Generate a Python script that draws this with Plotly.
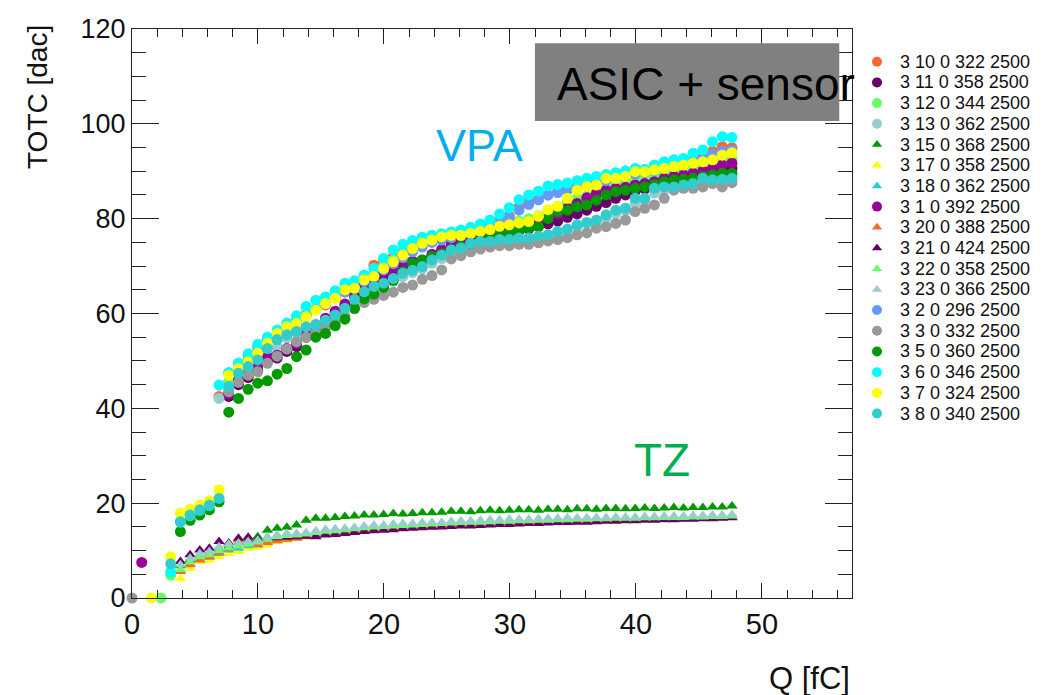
import plotly.graph_objects as go

# Injected charge steps [fC]
Q = [0.00, 0.77, 1.54, 2.30, 3.07, 3.84, 4.61, 5.38, 6.14, 6.91,
     7.68, 8.45, 9.22, 9.98, 10.75, 11.52, 12.29, 13.06, 13.82, 14.59,
     15.36, 16.13, 16.90, 17.66, 18.43, 19.20, 19.97, 20.74, 21.50, 22.27,
     23.04, 23.81, 24.58, 25.34, 26.11, 26.88, 27.65, 28.42, 29.18, 29.95,
     30.72, 31.49, 32.26, 33.02, 33.79, 34.56, 35.33, 36.10, 36.86, 37.63,
     38.40, 39.17, 39.94, 40.70, 41.47, 42.24, 43.01, 43.78, 44.54, 45.31,
     46.08, 46.85, 47.62]

# VPA channels (circles)
vpa_3_10 = [None] * 9 + [
    42.5, 45.5, 48.0, 50.0, 52.0, 54.0, 55.5, 57.0, 58.5, 60.0, 61.0, 61.8, 63.5, 65.0,
    66.5, 68.0, 70.2, 71.0, 72.0, 73.0, 74.0, 74.8, 75.5, 76.0, 76.4, 76.8, 77.2, 77.8,
    78.8, 79.6, 80.6, 82.5, 83.6, 84.0, 85.0, 85.8, 86.4, 86.8, 87.2, 87.8, 88.4, 88.8,
    89.2, 89.6, 90.0, 90.4, 90.8, 91.2, 91.6, 92.2, 93.0, 94.2, 95.2, 95.0]
vpa_3_11 = [None] * 10 + [
    42.5, 45.0, 46.5, 48.0, 50.0, 50.6, 52.0, 53.0, 55.0, 56.8, 58.3, 60.0, 61.5, 63.3,
    65.5, 66.3, 67.8, 68.2, 69.5, 70.5, 71.0, 72.0, 73.0, 73.8, 74.5, 75.0, 75.6, 76.3,
    76.7, 77.0, 77.4, 77.8, 78.4, 78.9, 79.5, 80.3, 81.0, 81.8, 82.6, 83.4, 84.3, 85.0,
    85.8, 86.3, 86.8, 87.4, 87.8, 88.2, 88.6, 89.1, 89.6, 90.2, 90.6]
vpa_3_12 = [None, None, None, 0.0, 4.8, None, None, None, None, None] + [
    45.5, 48.0, 49.5, 51.0, 53.0, 55.0, 57.5, 58.5, 60.0, 61.0, 62.4, 63.6, 65.2, 66.0,
    67.5, 68.5, 70.0, 71.3, 72.6, 73.8, 74.6, 75.2, 75.7, 76.1, 76.3, 76.7, 77.0, 77.5,
    78.2, 79.0, 79.5, 80.0, 80.6, 81.6, 82.6, 83.6, 84.3, 84.8, 85.6, 86.4, 87.0, 87.6,
    88.2, 88.6, 89.0, 89.4, 89.8, 90.2, 90.6, 91.0, 91.6, 92.2, 92.6]
vpa_3_13 = [None] * 9 + [
    42.1, 44.0, 46.5, 48.0, 49.5, 51.5, 53.0, 54.8, 55.8, 56.8, 57.8, 58.8, 60.0, 61.2,
    62.5, 64.0, 65.0, 65.8, 66.8, 67.8, 68.6, 69.4, 70.6, 71.6, 72.6, 73.2, 74.0, 74.6,
    74.8, 75.1, 75.3, 75.6, 75.8, 76.2, 76.6, 77.1, 77.6, 78.3, 78.9, 79.5, 80.1, 81.0,
    81.7, 83.3, 83.9, 85.4, 86.0, 86.3, 86.8, 87.2, 87.9, 88.5, 88.8, 89.2]
vpa_3_1 = [None, 7.5] + [None] * 8 + [
    43.0, 46.0, 47.4, 48.8, 50.9, 51.2, 52.6, 53.7, 55.8, 57.5, 59.0, 60.5, 62.0, 64.0,
    66.4, 67.1, 68.5, 68.8, 70.0, 71.0, 71.3, 72.5, 73.5, 74.5, 75.2, 75.8, 76.3, 76.9,
    77.3, 77.7, 78.3, 78.8, 79.4, 80.0, 81.0, 82.2, 83.2, 84.4, 85.3, 86.0, 86.4, 86.6,
    87.1, 87.4, 87.8, 88.5, 88.9, 89.2, 89.6, 90.1, 90.6, 91.3, 91.7]
vpa_3_2 = [None] * 10 + [
    47.5, 49.5, 51.2, 53.1, 54.5, 55.8, 57.0, 58.3, 59.5, 60.8, 62.0, 63.3, 64.5, 65.5,
    66.8, 68.0, 69.2, 70.5, 71.8, 73.0, 74.0, 75.0, 75.5, 76.0, 76.4, 76.8, 77.4, 78.2,
    79.2, 80.2, 81.8, 83.0, 84.0, 85.0, 85.5, 86.0, 86.6, 87.0, 87.5, 88.0, 88.5, 89.0,
    89.4, 89.8, 90.2, 90.7, 91.1, 91.5, 92.0, 92.6, 93.5, 94.2, 94.5]
vpa_3_3 = [0.0] + [None] * 9 + [
    43.5, 45.5, 47.0, 47.7, 49.5, 51.0, 52.5, 54.0, 55.0, 56.0, 57.0, 58.0, 59.5, 61.0,
    62.3, 63.0, 63.8, 64.5, 65.5, 66.0, 67.2, 68.0, 69.2, 71.5, 72.2, 73.0, 73.6, 74.0,
    74.3, 74.3, 74.6, 74.6, 74.9, 75.3, 75.6, 76.0, 76.6, 77.0, 78.0, 78.3, 79.0, 79.7,
    81.5, 82.2, 82.9, 84.3, 86.0, 86.4, 86.4, 86.7, 87.4, 86.7, 87.6]
vpa_3_5 = [None] * 5 + [14.0, 16.4, 17.5, 18.6, 20.3] + [
    39.2, 42.1, 44.0, 45.3, 45.8, 47.2, 48.4, 50.9, 52.3, 55.0, 55.8, 57.4, 58.8, 61.1,
    63.1, 64.1, 65.5, 67.0, 68.8, 70.6, 71.3, 72.0, 72.6, 73.5, 74.2, 74.8, 75.5, 76.0,
    76.6, 77.0, 77.6, 78.0, 78.3, 80.0, 81.5, 81.8, 82.5, 82.9, 83.9, 85.0, 85.7, 86.0,
    86.4, 86.7, 87.2, 87.8, 88.2, 88.3, 88.5, 88.9, 89.2, 89.6, 89.6]
vpa_3_6 = [None] * 4 + [5.5, 16.0, 17.4, 18.5, 19.5, 44.9] + [
    47.5, 49.5, 51.5, 53.5, 55.0, 56.5, 58.0, 59.5, 61.5, 62.8, 63.5, 64.8, 66.4, 66.9,
    68.1, 69.5, 71.6, 73.4, 74.6, 75.4, 76.1, 76.5, 76.8, 77.2, 77.6, 78.2, 78.9, 79.7,
    81.0, 82.3, 84.0, 85.0, 85.8, 86.9, 87.2, 87.5, 88.0, 88.5, 88.9, 89.3, 89.7, 90.1,
    90.6, 90.4, 91.3, 92.0, 92.4, 92.7, 93.8, 94.5, 96.2, 97.3, 97.1]
vpa_3_7 = [None, None, 0.0, None, 8.7, 17.9, 18.7, 19.6, 20.5, 22.8] + [
    47.0, 48.4, 49.8, 51.6, 53.7, 55.8, 57.2, 57.9, 59.3, 60.7, 62.1, 63.2, 65.0, 65.3,
    67.1, 67.8, 69.5, 70.9, 72.3, 73.7, 74.8, 75.5, 76.2, 76.5, 76.5, 76.9, 77.3, 77.7,
    78.4, 78.7, 79.1, 79.4, 80.5, 81.9, 82.6, 84.3, 86.0, 86.8, 87.1, 88.5, 88.5, 88.9,
    89.9, 89.9, 90.3, 90.6, 91.0, 91.3, 91.7, 92.0, 92.4, 93.4, 93.9]
vpa_3_8 = [None] * 4 + [7.2, 16.1, 17.5, 18.6, 19.6, 21.0] + [
    44.6, 47.4, 48.8, 50.2, 52.6, 54.5, 55.5, 56.2, 57.2, 57.6, 58.6, 59.7, 61.1, 63.0,
    64.6, 65.7, 66.4, 67.4, 68.5, 69.1, 69.9, 71.3, 72.3, 73.4, 73.8, 74.8, 75.2, 75.2,
    75.6, 75.6, 75.9, 75.9, 76.3, 76.6, 77.3, 77.8, 78.7, 79.2, 79.7, 80.8, 81.8, 82.2,
    84.3, 84.3, 86.4, 86.7, 86.7, 87.1, 87.4, 88.5, 88.2, 88.3, 88.5]

# TZ channels (triangles)
tz_3_15 = [None] * 5 + [
    6.8, 8.0, 8.7, 9.3, 10.2, 10.9, 11.7, 12.3, 12.9, 14.3, 14.7, 14.9, 15.4, 16.4,
    16.8, 16.8, 17.0, 17.2, 17.3, 17.5, 17.5, 17.6, 17.8, 17.7, 17.8, 18.0, 18.0, 18.1,
    18.3, 18.3, 18.2, 18.4, 18.5, 18.4, 18.5, 18.6, 18.6, 18.5, 18.7, 18.7, 18.6, 18.8,
    18.8, 18.7, 18.9, 18.9, 18.8, 18.9, 19.0, 18.9, 19.0, 19.1, 19.0, 19.1, 19.1, 19.2,
    19.2, 19.4]
tz_3_17 = [None] * 5 + [
    4.1, 6.3, 7.7, 8.0, 8.7, 9.4, 9.8, 10.5, 10.7, 11.2, 11.9, 12.2, 12.6, 12.9,
    13.2, 13.5, 13.7, 13.9, 14.1, 14.3, 14.5, 14.6, 14.7, 14.9, 15.0, 15.1, 15.2, 15.3,
    15.4, 15.5, 15.5, 15.6, 15.7, 15.8, 15.8, 15.9, 16.0, 16.0, 16.1, 16.2, 16.2, 16.3,
    16.3, 16.4, 16.4, 16.5, 16.5, 16.6, 16.6, 16.7, 16.7, 16.7, 16.8, 16.8, 16.9, 16.9,
    17.0, 17.0]
tz_3_18 = [None] * 5 + [
    5.8, 7.2, 8.2, 8.8, 9.4, 10.1, 10.5, 11.0, 11.2, 11.8, 12.3, 12.6, 12.8, 13.1,
    13.3, 13.6, 13.8, 14.0, 14.2, 14.4, 14.6, 14.7, 14.9, 15.0, 15.1, 15.3, 15.3, 15.5,
    15.6, 15.6, 15.8, 15.9, 15.9, 16.0, 16.1, 16.1, 16.2, 16.3, 16.3, 16.4, 16.4, 16.5,
    16.5, 16.6, 16.6, 16.7, 16.7, 16.7, 16.8, 16.8, 16.9, 16.9, 16.9, 17.0, 17.0, 17.1,
    17.1, 17.2]
tz_3_20 = [None] * 5 + [
    5.6, 7.0, 8.0, 8.6, 9.6, 10.4, 12.3, 11.6, 11.3, 11.7, 12.1, 12.4, 12.6, 12.9,
    13.1, 13.4, 13.6, 13.8, 14.0, 14.2, 14.4, 14.5, 14.7, 14.8, 14.9, 15.1, 15.1, 15.3,
    15.4, 15.4, 15.6, 15.7, 15.7, 15.8, 15.9, 15.9, 16.0, 16.1, 16.1, 16.2, 16.2, 16.3,
    16.3, 16.4, 16.4, 16.5, 16.5, 16.5, 16.6, 16.6, 16.7, 16.7, 16.7, 16.8, 16.8, 16.9,
    16.9, 17.0]
tz_3_21 = [None] * 5 + [
    7.7, 9.1, 10.1, 10.5, 11.9, 11.6, 12.6, 12.8, 12.4, 12.6, 12.7, 12.8, 12.9, 13.0,
    12.9, 13.3, 13.4, 13.6, 13.8, 14.0, 14.2, 14.3, 14.4, 14.6, 14.7, 14.8, 14.9, 15.0,
    15.1, 15.2, 15.2, 15.3, 15.4, 15.5, 15.5, 15.6, 15.7, 15.7, 15.8, 15.9, 15.9, 16.0,
    16.0, 16.1, 16.2, 16.2, 16.3, 16.3, 16.4, 16.4, 16.5, 16.5, 16.6, 16.6, 16.7, 16.7,
    16.8, 16.9]
tz_3_22 = [None] * 5 + [
    6.0, 7.6, 8.7, 9.1, 10.0, 10.6, 11.0, 11.4, 11.8, 12.4, 12.9, 13.2, 13.3, 13.5,
    13.8, 14.1, 14.2, 14.4, 14.6, 14.8, 15.0, 15.1, 15.2, 15.3, 15.4, 15.5, 15.6, 15.7,
    15.8, 15.9, 16.0, 16.0, 16.1, 16.2, 16.2, 16.3, 16.3, 16.4, 16.4, 16.5, 16.5, 16.6,
    16.6, 16.7, 16.7, 16.8, 16.8, 16.8, 16.9, 16.9, 17.0, 17.0, 17.0, 17.1, 17.1, 17.2,
    17.2, 17.3]
tz_3_23 = [None] * 5 + [
    7.0, 8.4, 9.4, 9.8, 10.8, 11.4, 11.6, 11.9, 12.2, 12.9, 13.3, 13.6, 13.6, 13.8,
    14.2, 14.5, 14.6, 14.7, 14.9, 15.2, 15.4, 15.4, 15.6, 15.7, 15.7, 15.9, 16.0, 16.0,
    16.2, 16.3, 16.3, 16.4, 16.5, 16.5, 16.6, 16.6, 16.6, 16.7, 16.8, 16.8, 16.9, 16.9,
    16.9, 17.0, 17.0, 17.1, 17.1, 17.1, 17.2, 17.2, 17.3, 17.3, 17.3, 17.4, 17.4, 17.5,
    17.5, 17.6]

# legend order = drawing order (name, values, colour, symbol)
SERIES = [
    ("3 10 0 322 2500", vpa_3_10, "#FF6633", "circle"),
    ("3 11 0 358 2500", vpa_3_11, "#660066", "circle"),
    ("3 12 0 344 2500", vpa_3_12, "#66FF66", "circle"),
    ("3 13 0 362 2500", vpa_3_13, "#99CCCC", "circle"),
    ("3 15 0 368 2500", tz_3_15, "#009900", "triangle-up"),
    ("3 17 0 358 2500", tz_3_17, "#FFFF00", "triangle-up"),
    ("3 18 0 362 2500", tz_3_18, "#33CCCC", "triangle-up"),
    ("3 1 0 392 2500", vpa_3_1, "#990099", "circle"),
    ("3 20 0 388 2500", tz_3_20, "#FF6633", "triangle-up"),
    ("3 21 0 424 2500", tz_3_21, "#660066", "triangle-up"),
    ("3 22 0 358 2500", tz_3_22, "#66FF66", "triangle-up"),
    ("3 23 0 366 2500", tz_3_23, "#99CCCC", "triangle-up"),
    ("3 2 0 296 2500", vpa_3_2, "#6699FF", "circle"),
    ("3 3 0 332 2500", vpa_3_3, "#999999", "circle"),
    ("3 5 0 360 2500", vpa_3_5, "#009900", "circle"),
    ("3 6 0 346 2500", vpa_3_6, "#00FFFF", "circle"),
    ("3 7 0 324 2500", vpa_3_7, "#FFFF00", "circle"),
    ("3 8 0 340 2500", vpa_3_8, "#33CCCC", "circle"),
]

FONT = "Liberation Sans, Arial, Helvetica, sans-serif"
# the page body adds an 8 px margin, so the figure is 8 px smaller and shifted
OFF = 8
W, H = 1046 - OFF, 695 - OFF
L, T = 132 - OFF, 29 - OFF
FRAME_RIGHT, FRAME_BOTTOM = 852 - OFF, 598 - OFF
R, B = W - FRAME_RIGHT, H - FRAME_BOTTOM
plot_w = W - L
plot_h = H - T - B
main_dom = (FRAME_RIGHT - L) / plot_w
LEG_LEFT = 862 - OFF
leg_dom0 = (LEG_LEFT - L) / plot_w
CIRC, TRI = 11, 10

fig = go.Figure()

for name, vals, col, sym in SERIES:
    assert len(vals) == len(Q), name
    fig.add_trace(go.Scatter(
        x=Q, y=vals, mode="markers", name=name, showlegend=False,
        cliponaxis=False, hoverinfo="x+y+name",
        marker=dict(symbol=sym, color=col, size=CIRC if sym == "circle" else TRI,
                    line=dict(width=0)),
    ))

# hand-made legend (ROOT style, tight rows)
for i, (name, vals, col, sym) in enumerate(SERIES):
    fig.add_trace(go.Scatter(
        x=[15], y=[i], xaxis="x2", yaxis="y2", mode="markers", showlegend=False,
        hoverinfo="skip", cliponaxis=False,
        marker=dict(symbol=sym, color=col, size=10 if sym == "circle" else 9),
    ))
    fig.add_annotation(x=36, y=i, xref="x2", yref="y2", text=name, showarrow=False,
                       xanchor="left", yanchor="middle",
                       font=dict(family=FONT, size=18, color="#111"))

axis_common = dict(showline=True, linecolor="#222", linewidth=1, mirror="allticks",
                   ticks="inside", tickcolor="#222", tickwidth=1, showgrid=False,
                   zeroline=False)

fig.update_layout(
    width=W, height=H,
    margin=dict(l=L, r=0, t=T, b=B),
    paper_bgcolor="white", plot_bgcolor="rgba(0,0,0,0)",
    xaxis=dict(domain=[0, main_dom], range=[0, 57.15], dtick=10, ticklen=15,
               minor=dict(dtick=2, ticklen=8, ticks="inside", tickcolor="#222"),
               tickfont=dict(family=FONT, size=29, color="#111"),
               **axis_common),
    yaxis=dict(range=[0, 120], dtick=20, ticklen=27,
               minor=dict(dtick=5, ticklen=14, ticks="inside", tickcolor="#222"),
               tickfont=dict(family=FONT, size=27, color="#111"),
               **axis_common),
    xaxis2=dict(domain=[leg_dom0, 1], range=[0, W - LEG_LEFT], visible=False, anchor="y2"),
    yaxis2=dict(domain=[0, 1], range=[25.91, -1.58], visible=False, anchor="x2"),
    showlegend=False,
)

# grey label box
fig.add_shape(type="rect", xref="x", yref="y", x0=31.98, x1=56.14, y0=100.6, y1=117.0,
              fillcolor="#808080", line=dict(width=0), layer="above")
fig.add_annotation(x=33.57, y=108.4, xref="x", yref="y", text="ASIC + sensor",
                   showarrow=False, xanchor="left", yanchor="middle",
                   font=dict(family=FONT, size=46, color="black"))
fig.add_annotation(x=27.61, y=95.5, xref="x", yref="y", text="VPA", showarrow=False,
                   font=dict(family=FONT, size=45, color="#00AEEF"))
fig.add_annotation(x=42.07, y=29.1, xref="x", yref="y", text="TZ", showarrow=False,
                   font=dict(family=FONT, size=46, color="#00B050"))

# axis titles
fig.add_annotation(x=main_dom, y=(FRAME_BOTTOM - (678 - OFF)) / plot_h, xref="paper",
                   yref="paper", text="Q [fC]", showarrow=False, xanchor="right",
                   yanchor="middle", font=dict(family=FONT, size=31, color="#111"))
fig.add_annotation(x=(37 - 132) / plot_w, y=(598 - 97) / plot_h, xref="paper",
                   yref="paper", text="TOTC [dac]", showarrow=False, textangle=-90,
                   xanchor="center", yanchor="middle",
                   font=dict(family=FONT, size=28, color="#111"))

fig.write_html("out.html")
